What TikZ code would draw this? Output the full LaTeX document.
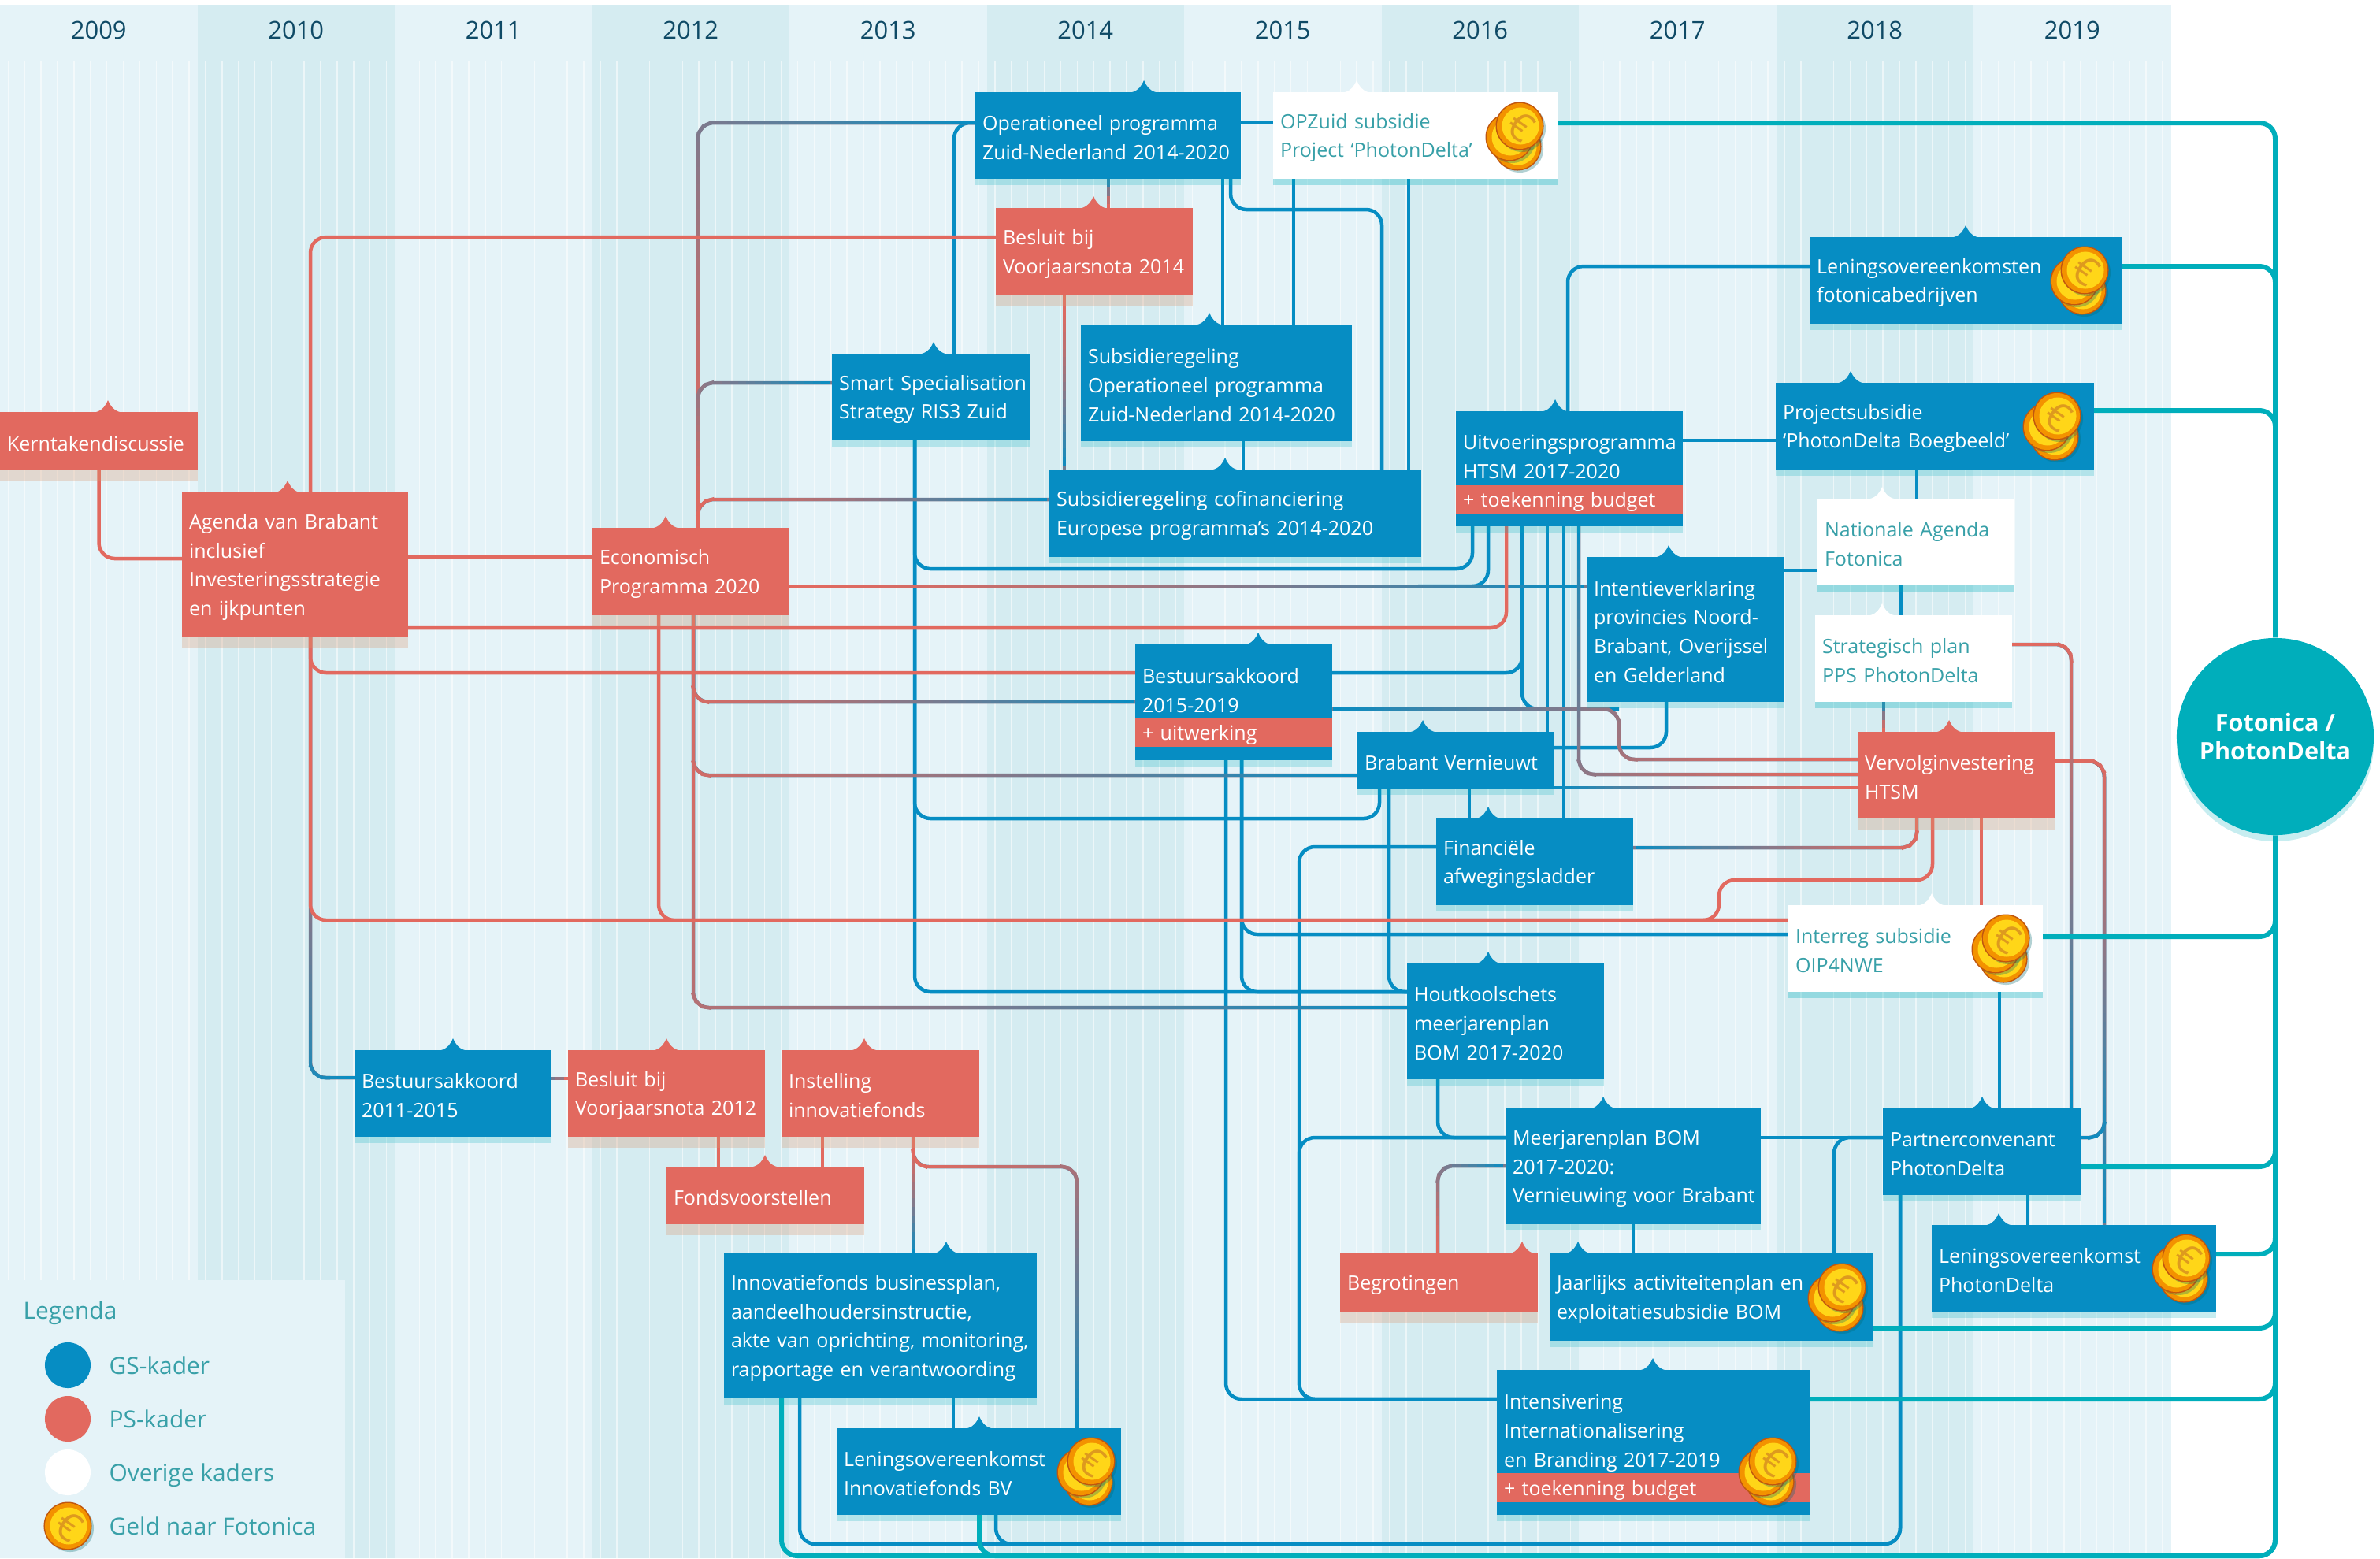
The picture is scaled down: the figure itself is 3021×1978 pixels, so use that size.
\documentclass[tikz,border=0pt]{standalone}
\usepackage{fontspec}
\setmainfont{Open Sans}
\usetikzlibrary{shadows,decorations.markings}
\definecolor{gs}{HTML}{068DC3}
\definecolor{ps}{HTML}{E2695F}
\definecolor{teal1}{HTML}{00AEBB}
\definecolor{tealtxt}{HTML}{38A0A8}
\definecolor{collight}{HTML}{E5F3F8}
\definecolor{coldark}{HTML}{D5ECF1}
\definecolor{yeartxt}{HTML}{0F4A66}
\definecolor{pshadow}{HTML}{DB9972}
\definecolor{coinedge}{HTML}{C0560F}
\definecolor{coinorange}{HTML}{F39200}
\definecolor{coinyellow}{HTML}{FFD618}
\definecolor{coineuro}{HTML}{DE9A1E}
\pgfdeclarelayer{lines}
\pgfsetlayers{lines,main}
\newcommand\boxfont{\fontsize{7.12}{10.5}\selectfont}
\tikzset{
  sized/.code 2 args={\pgfmathsetlengthmacro\boxtw{#1*0.01cm}\pgfmathsetlengthmacro\boxth{#2*0.01cm}\tikzset{text width=\boxtw,minimum height=\boxth}},
  plainbox/.style={anchor=north west,inner sep=0pt,outer sep=0pt,font=\boxfont,execute at begin node={\leftskip=0.09cm\rightskip=0pt plus 1fil\parindent=0pt\rule{0pt}{0.25cm}}},
  gsbox/.style={plainbox,fill=gs,text=white,general shadow={shadow xshift=0pt,shadow yshift=-0.08cm,fill=teal1,opacity=.22}},
  psbox/.style={plainbox,fill=ps,text=white,general shadow={shadow xshift=0pt,shadow yshift=-0.14cm,fill=pshadow,opacity=.3}},
  wbox/.style={plainbox,fill=white,text=tealtxt,general shadow={shadow xshift=0pt,shadow yshift=-0.08cm,fill=teal1,opacity=.3}},
  band/.style={plainbox,fill=ps,text=white},
  gsline/.style={draw=gs,line width=0.045cm,rounded corners=0.2cm},
  psline/.style={draw=ps,line width=0.045cm,rounded corners=0.2cm},
  tealline/.style={draw=teal1,line width=0.06cm,rounded corners=0.2cm},
  mixline/.style={draw=ps!50!gs,line width=0.045cm,rounded corners=0.2cm,postaction={decorate,decoration={markings,mark=between positions 0 and 1 step 3pt with {\pgfmathsetmacro\mixpart{max(0,100-100*pow(\pgfkeysvalueof{/pgf/decoration/mark info/distance from start}/\pgfdecoratedpathlength,1.5))}\fill[ps!\mixpart!gs,sharp corners] (-1.7pt,-0.64pt) rectangle (1.7pt,0.64pt);}}}},
  legtext/.style={anchor=west,inner sep=0pt,text=tealtxt,text height=1.5ex,text depth=.25ex,font=\fontsize{8.5}{10}\selectfont},
  legdot/.style={circle,inner sep=0pt,minimum size=0.58cm},
  coin/.pic={
    \fill[black!40!teal1,opacity=.3] (3,3) circle (0.3cm);
    \fill[coinedge] (0,0) circle (0.305cm);
    \fill[coinorange] (0,0) circle (0.29cm);
    \fill[coinyellow] (1,0) circle (0.235cm);
  },
  coinstack/.pic={
    \path (-3,26) pic {coin} (-13,14) pic {coin} (0,0) pic {coin};
    \node[rotate=-35,text=coineuro,font=\fontsize{14}{14}\selectfont] (-euro) at (1,0) {€};
  }
}
\begin{document}
\begin{tikzpicture}[x=0.01cm,y=-0.01cm]
\useasboundingbox (0,0) rectangle (3021,1978);

\begin{pgfonlayer}{lines}
\fill[collight] (0,6) rectangle (2756,1978);
\foreach \i in {1,3,5,7,9} \fill[coldark] ({250.5*\i},6) rectangle ({250.5*(\i+1)},1978);
\foreach \i in {0,...,131} \draw[white,opacity=.55,line width=0.015cm] ({10.4+20.875*\i},78) -- ({10.4+20.875*\i},1978);
\fill[collight] (0,1625) rectangle (438,1978);
\end{pgfonlayer}

\foreach \yr [count=\i from 0] in {2009,...,2019}
  \node[text=yeartxt,font=\fontsize{8.8}{10}\selectfont] (y\yr) at ({125.25+250.5*\i},38) {\yr};

\node[gsbox,sized={337}{110}] (oper) at (1238,117) {Operationeel programma\\Zuid-Nederland 2014-2020};
\node[wbox,sized={361}{110}] (opzuid) at (1616,117) {OPZuid subsidie\\Project ‘PhotonDelta’};
\node[psbox,sized={250}{111}] (besl14) at (1264,264) {Besluit bij\\Voorjaarsnota 2014};
\node[gsbox,sized={397}{110}] (lenings) at (2297,301) {Leningsovereenkomsten\\fotonicabedrijven};
\node[gsbox,sized={344}{148}] (subop) at (1372,412) {Subsidieregeling\\Operationeel programma\\Zuid-Nederland 2014-2020};
\node[gsbox,sized={251}{110}] (smart) at (1056,449) {Smart Specialisation\\Strategy RIS3 Zuid};
\node[gsbox,sized={404}{110}] (project) at (2254,486) {Projectsubsidie\\‘PhotonDelta Boegbeeld’};
\node[psbox,sized={251}{74}] (kern) at (0,523) {Kerntakendiscussie};
\node[gsbox,sized={288}{146}] (uitv) at (1848,522) {Uitvoeringsprogramma\\HTSM 2017-2020\\~};
\node[band,sized={288}{36}] (uitvband) at (1848,616) {+ toekenning budget};
\node[gsbox,sized={472}{111}] (cofin) at (1332,596) {Subsidieregeling cofinanciering\\Europese programma’s 2014-2020};
\node[psbox,sized={287}{184}] (agenda) at (231,625) {Agenda van Brabant\\inclusief\\Investeringsstrategie\\en ijkpunten};
\node[wbox,sized={250}{110}] (natag) at (2307,633) {Nationale Agenda\\Fotonica};
\node[psbox,sized={250}{111}] (econ) at (752,670) {Economisch\\Programma 2020};
\node[gsbox,sized={250}{184}] (intent) at (2014,707) {Intentieverklaring\\provincies Noord-\\Brabant, Overijssel\\en Gelderland};
\node[wbox,sized={250}{110}] (strateg) at (2304,781) {Strategisch plan\\PPS PhotonDelta};
\node[gsbox,sized={250}{147}] (bestuur15) at (1441,818) {Bestuursakkoord\\2015-2019\\~};
\node[band,sized={250}{37}] (bestuurband) at (1441,911) {+ uitwerking};
\node[gsbox,sized={250}{72}] (brabant) at (1723,929) {Brabant Vernieuwt};
\node[psbox,sized={251}{110}] (vervolg) at (2358,929) {Vervolginvestering\\HTSM};
\node[gsbox,sized={250}{110}] (fin) at (1823,1039) {Financiële\\afwegingsladder};
\node[wbox,sized={323}{110}] (interreg) at (2270,1149) {Interreg subsidie\\OIP4NWE};
\node[gsbox,sized={250}{147}] (hout) at (1786,1223) {Houtkoolschets\\meerjarenplan\\BOM 2017-2020};
\node[gsbox,sized={250}{110}] (bestuur11) at (450,1333) {Bestuursakkoord\\2011-2015};
\node[psbox,sized={250}{110}] (besl12) at (721,1333) {Besluit bij\\Voorjaarsnota 2012};
\node[psbox,sized={251}{110}] (instel) at (992,1333) {Instelling\\innovatiefonds};
\node[gsbox,sized={324}{147}] (meer) at (1911,1407) {Meerjarenplan BOM\\2017-2020:\\Vernieuwing voor Brabant};
\node[gsbox,sized={251}{110}] (partner) at (2390,1407) {Partnerconvenant\\PhotonDelta};
\node[psbox,sized={251}{73}] (fonds) at (846,1481) {Fondsvoorstellen};
\node[gsbox,sized={361}{110}] (lenpd) at (2452,1555) {Leningsovereenkomst\\PhotonDelta};
\node[psbox,sized={251}{74}] (begrot) at (1701,1591) {Begrotingen};
\node[gsbox,sized={410}{111}] (jaar) at (1967,1591) {Jaarlijks activiteitenplan en\\exploitatiesubsidie BOM};
\node[gsbox,sized={397}{184}] (innov) at (919,1591) {Innovatiefonds businessplan,\\aandeelhoudersinstructie,\\akte van oprichting, monitoring,\\rapportage en verantwoording};
\node[gsbox,sized={397}{184}] (intens) at (1900,1739) {Intensivering\\Internationalisering\\en Branding 2017-2019\\~};
\node[band,sized={397}{37}] (intensband) at (1900,1870) {+ toekenning budget};
\node[gsbox,sized={361}{110}] (lenif) at (1062,1813) {Leningsovereenkomst\\Innovatiefonds BV};

\node[circle,fill=teal1,text=white,inner sep=0pt,minimum size=2.5cm,align=center,font=\bfseries\fontsize{8.7}{10.3}\selectfont,general shadow={shadow xshift=0pt,shadow yshift=-0.08cm,fill=teal1,opacity=.22}] (foton) at (2888,935) {Fotonica /\\PhotonDelta};

\foreach \x/\n/\c in {137/kern/ps,365/agenda/ps,845/econ/ps,1185/smart/gs,1452/oper/gs,1722/opzuid/white,1388/besl14/ps,1535/subop/gs,1555/cofin/gs,1974/uitv/gs,2495/lenings/gs,2349/project/gs,2389/natag/white,2118/intent/gs,2389/strateg/white,2474/vervolg/ps,2452/interreg/white,1597/bestuur15/gs,1806/brabant/gs,1889/fin/gs,1889/hout/gs,2035/meer/gs,2516/partner/gs,2537/lenpd/gs,1932/begrot/ps,2003/jaar/gs,2098/intens/gs,575/bestuur11/gs,846/besl12/ps,1097/instel/ps,971/fonds/ps,1201/innov/gs,1243/lenif/gs}
  \fill[\c] (\x,0 |- \n.north) ++(-15,0) .. controls +(8,-2) and +(-3,7) .. ++(15,-15) .. controls +(3,7) and +(-8,-2) .. ++(15,15) -- cycle;

\path (1929,160) pic (coina) {coinstack};
\path (2646,343) pic (coinb) {coinstack};
\path (2611,528) pic (coinc) {coinstack};
\path (2546,1191) pic (coind) {coinstack};
\path (2775,1597) pic (coine) {coinstack};
\path (2338,1634) pic (coinf) {coinstack};
\path (2250,1855) pic (coing) {coinstack};
\path (1385,1855) pic (coinh) {coinstack};

\node[legtext] (legtitle) at (29,1663) {Legenda};
\node[legdot,fill=gs] (leggs) at (86,1733) {};
\node[legdot,fill=ps] (legps) at (86,1801) {};
\node[legdot,fill=white] (legov) at (86,1869) {};
\path (86,1937) pic {coin};
\node[rotate=-35,text=coineuro,font=\fontsize{14}{14}\selectfont] (legeuro) at (87,1937) {€};
\node[legtext] (legtgs) at (138,1733) {GS-kader};
\node[legtext] (legtps) at (138,1801) {PS-kader};
\node[legtext] (legtov) at (138,1869) {Overige kaders};
\node[legtext] (legtgeld) at (138,1937) {Geld naar Fotonica};

\coordinate (econjoin) at (1800,744);
\coordinate (redjoin) at (2100,1168);

\begin{pgfonlayer}{lines}
\draw[gsline] (1211,0 |- smart.north) |- (oper.west |- 0,156);
\draw[gsline] (oper.east |- 0,156) -- (opzuid.west |- 0,156);
\draw[gsline] (1552,0 |- oper.south) -- (1552,0 |- subop.north);
\draw[gsline] (1562,0 |- oper.south) |- (1754,266) -- (1754,0 |- cofin.north);
\draw[gsline] (1642,0 |- opzuid.south) -- (1642,0 |- subop.north);
\draw[gsline] (1788,0 |- opzuid.south) -- (1788,0 |- cofin.north);
\draw[gsline] (1578,0 |- subop.south) -- (1578,0 |- cofin.north);
\draw[gsline] (1161,0 |- smart.south) |- (1869,722) -- (1869,0 |- uitv.south);
\draw[gsline] (1161,0 |- smart.south) |- (1751,1039) -- (1751,0 |- brabant.south);
\draw[gsline] (1161,0 |- smart.south) |- (hout.west |- 0,1259);
\draw[gsline] (1990,0 |- uitv.north) |- (lenings.west |- 0,338);
\draw[gsline] (uitv.east |- 0,559) -- (project.west |- 0,559);
\draw[gsline] (1889,0 |- uitv.south) |- (econjoin);
\draw[gsline] (1932,0 |- uitv.south) |- (bestuur15.east |- 0,854);
\draw[gsline] (1932,0 |- uitv.south) |- (2055,900);
\draw[gsline] (1964,0 |- uitv.south) -- (1964,0 |- brabant.north);
\draw[gsline] (1985,0 |- uitv.south) -- (1985,0 |- fin.north);
\draw[gsline] (2115,0 |- intent.south) |- (brabant.east |- 0,949);
\draw[gsline] (intent.east |- 0,724) -- (natag.west |- 0,724);
\draw[gsline] (2433,0 |- project.south) -- (2433,0 |- natag.north);
\draw[gsline] (2413,0 |- natag.south) -- (2413,0 |- strateg.north);
\draw[gsline] (1576,0 |- bestuur15.south) |- (interreg.west |- 0,1186);
\draw[gsline] (1576,0 |- bestuur15.south) |- (hout.west |- 0,1259);
\draw[gsline] (1556,0 |- bestuur15.south) |- (intens.west |- 0,1776);
\draw[gsline] (1763,0 |- brabant.south) |- (hout.west |- 0,1259);
\draw[gsline] (1865,0 |- brabant.south) -- (1865,0 |- fin.north);
\draw[gsline] (fin.west |- 0,1075) -| (1649,1776) -- (intens.west |- 0,1776);
\draw[gsline] (meer.west |- 0,1444) -| (1649,1776) -- (intens.west |- 0,1776);
\draw[gsline] (1825,0 |- hout.south) |- (meer.west |- 0,1444);
\draw[gsline] (meer.east |- 0,1444) -- (partner.west |- 0,1444);
\draw[gsline] (2328,0 |- jaar.north) |- (partner.west |- 0,1444);
\draw[gsline] (2073,0 |- meer.south) -- (2073,0 |- jaar.north);
\draw[gsline] (2538,0 |- interreg.south) -- (2538,0 |- partner.north);
\draw[gsline] (2574,0 |- partner.south) -- (2574,0 |- lenpd.north);
\draw[gsline] (2412,0 |- partner.south) |- (1015,1960) -- (1015,0 |- innov.south);
\draw[gsline] (2412,0 |- partner.south) |- (1264,1960) -- (1264,0 |- lenif.south);
\draw[gsline] (1210,0 |- innov.south) -- (1210,0 |- lenif.north);

\draw[mixline] (886,0 |- econ.north) |- (oper.west |- 0,156);
\draw[mixline] (886,0 |- econ.north) |- (smart.west |- 0,486);
\draw[mixline] (886,0 |- econ.north) |- (cofin.west |- 0,634);
\draw[mixline] (econ.east |- 0,744) -- (intent.west |- 0,744);
\draw[mixline] (880,0 |- econ.south) |- (hout.west |- 0,1279);
\draw[mixline] (880,0 |- econ.south) |- (brabant.west |- 0,984);
\draw[mixline] (880,0 |- econ.south) |- (bestuur15.west |- 0,891);
\draw[mixline] (394,0 |- agenda.south) |- (bestuur11.west |- 0,1368);
\draw[mixline] (1407,0 |- besl14.north) -- (1407,0 |- oper.south);
\draw[mixline] (1351,0 |- besl14.south) -- (1351,0 |- cofin.north);
\draw[mixline] (vervolg.west |- 0,964) -| (2055,900) -- (bestuur15.east |- 0,900);
\draw[mixline] (vervolg.west |- 0,983) -| (2004,0 |- uitv.south);
\draw[mixline] (vervolg.west |- 0,1000) -- (brabant.east |- 0,1000);
\draw[mixline] (2391,0 |- vervolg.north) -- (2391,0 |- strateg.south);
\draw[mixline] (vervolg.east |- 0,966) -| (2671,0 |- lenpd.north);
\draw[mixline] (vervolg.east |- 0,966) -| (2671,1444) -- (partner.east |- 0,1444);
\draw[mixline] (strateg.east |- 0,818) -| (2629,0 |- partner.north);
\draw[mixline] (2433,0 |- vervolg.south) |- (fin.east |- 0,1076);
\draw[mixline] (1159,0 |- instel.south) -- (1159,0 |- innov.north);
\draw[mixline] (1159,0 |- instel.south) |- (1367,1481) -- (1367,0 |- lenif.north);
\draw[mixline] (besl12.west |- 0,1369) -- (bestuur11.east |- 0,1369);
\draw[mixline] (1825,0 |- begrot.north) |- (meer.west |- 0,1480);

\draw[psline] (kern.south) |- (agenda.west |- 0,709);
\draw[psline] (394,0 |- agenda.north) |- (besl14.west |- 0,301);
\draw[psline] (agenda.east |- 0,707) -- (econ.west |- 0,707);
\draw[psline] (394,0 |- agenda.south) |- (bestuur15.west |- 0,854);
\draw[psline] (394,0 |- agenda.south) |- (interreg.west |- 0,1168);
\draw[psline] (agenda.east |- 0,797) -| (1912,0 |- uitv.south);
\draw[psline] (836,0 |- econ.south) |- (interreg.west |- 0,1168);
\draw[psline] (2453,0 |- vervolg.south) |- (2182,1117) -- (2182,1168) -- (redjoin);
\draw[psline] (2515,0 |- vervolg.south) -- (2515,0 |- interreg.north);
\draw[psline] (1044,0 |- instel.south) -- (1044,0 |- fonds.north);
\draw[psline] (912,0 |- besl12.south) -- (912,0 |- fonds.north);

\draw[tealline] (opzuid.east |- 0,156) -| (foton.north);
\draw[tealline] (lenings.east |- 0,338) -| (foton.north);
\draw[tealline] (project.east |- 0,521) -| (foton.north);
\draw[tealline] (interreg.east |- 0,1189) -| (foton.south);
\draw[tealline] (partner.east |- 0,1481) -| (foton.south);
\draw[tealline] (lenpd.east |- 0,1592) -| (foton.south);
\draw[tealline] (jaar.east |- 0,1686) -| (foton.south);
\draw[tealline] (intens.east |- 0,1776) -| (foton.south);
\draw[tealline] (992,0 |- innov.south) |- (2888,1975) -- (foton.south);
\draw[tealline] (1243,0 |- lenif.south) |- (2888,1975) -- (foton.south);
\end{pgfonlayer}
\end{tikzpicture}
\end{document}
